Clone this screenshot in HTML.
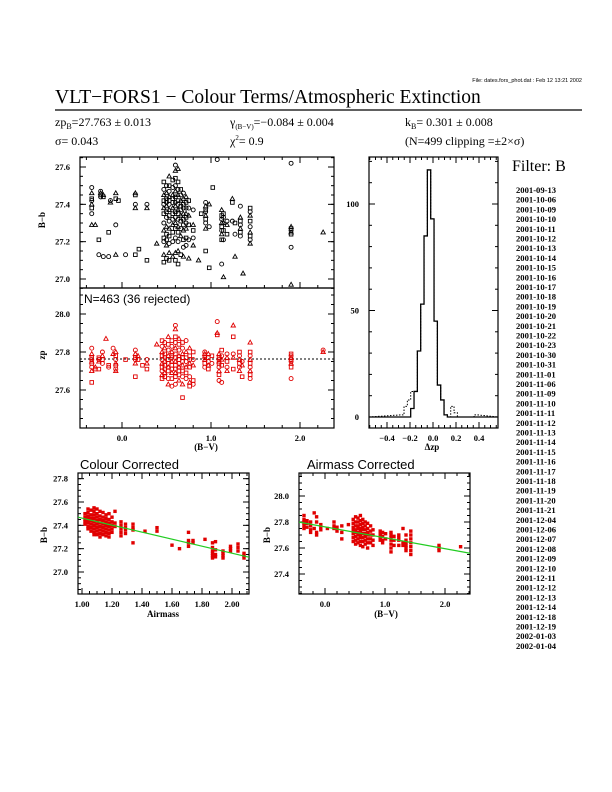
<!DOCTYPE html>
<html><head><meta charset="utf-8"><style>
body{margin:0;background:#fff}
svg{display:block;font-family:"Liberation Sans",sans-serif}
.tk{font-size:8.5px;font-family:"Liberation Serif",serif;font-weight:bold}
.serif{font-family:"Liberation Serif",serif}
</style></head><body>
<svg id="c" width="612" height="792" viewBox="0 0 612 792">
<text x="582" y="82" text-anchor="end" font-size="5.5">File: dates.fors_phot.dat : Feb 12 13:21 2002</text>
<text x="55" y="103" class="serif" font-size="19.5">VLT−FORS1 − Colour Terms/Atmospheric Extinction</text>
<line x1="55" y1="110" x2="582" y2="110" stroke="#000" stroke-width="1.2"/>
<g class="serif" font-size="12">
<text x="55" y="126">zp<tspan font-size="8" dy="3">B</tspan><tspan dy="-3">=27.763 ± 0.013</tspan></text>
<text x="230" y="126">γ<tspan font-size="7" dy="3">(B−V)</tspan><tspan dy="-3">=−0.084 ± 0.004</tspan></text>
<text x="405" y="126">k<tspan font-size="8" dy="3">B</tspan><tspan dy="-3">= 0.301 ± 0.008</tspan></text>
<text x="55" y="145">σ= 0.043</text>
<text x="230" y="145">χ<tspan font-size="7" dy="-5">2</tspan><tspan dy="5">=  0.9</tspan></text>
<text x="405" y="145">(N=499 clipping =±2×σ)</text>
</g>
<text x="512" y="171" class="serif" font-size="16">Filter: B</text>
<g id="dates" class="serif"></g>
</svg>
<script>
const NS="http://www.w3.org/2000/svg";
const svg=document.getElementById('c');
function mk(tag,attrs,parent){const e=document.createElementNS(NS,tag);for(const k in attrs)e.setAttribute(k,attrs[k]);(parent||svg).appendChild(e);return e;}

// ---------- data ----------
const dates=["2001-09-13","2001-10-06","2001-10-09","2001-10-10","2001-10-11","2001-10-12","2001-10-13","2001-10-14","2001-10-15","2001-10-16","2001-10-17","2001-10-18","2001-10-19","2001-10-20","2001-10-21","2001-10-22","2001-10-23","2001-10-30","2001-10-31","2001-11-01","2001-11-06","2001-11-09","2001-11-10","2001-11-11","2001-11-12","2001-11-13","2001-11-14","2001-11-15","2001-11-16","2001-11-17","2001-11-18","2001-11-19","2001-11-20","2001-11-21","2001-12-04","2001-12-06","2001-12-07","2001-12-08","2001-12-09","2001-12-10","2001-12-11","2001-12-12","2001-12-13","2001-12-14","2001-12-18","2001-12-19","2002-01-03","2002-01-04"];

const rawX=[-0.34,-0.30,-0.26,-0.24,-0.21,-0.15,-0.13,-0.07,-0.04,0.04,0.15,0.19,0.28,0.39,0.47,0.50,0.53,0.57,0.60,0.63,0.66,0.69,0.72,0.75,0.80,0.86,0.89,0.94,0.98,1.02,1.07,1.12,1.14,1.18,1.24,1.27,1.33,1.36,1.44,1.90,2.26];
const rawY=[[27.49,27.46,27.43,27.42,27.40,27.38,27.35,27.29],[27.29],[27.21,27.13],[27.47,27.46,27.45,27.44],[27.45,27.44,27.12],[27.25,27.12],[27.42,27.41],[27.46,27.43,27.29,27.13],[27.42],[27.13],[27.46,27.45,27.40,27.38,27.13],[27.16],[27.40,27.38,27.10],[27.19],
[27.52,27.48,27.45,27.42,27.40,27.38,27.35,27.30,27.26,27.22,27.20,27.13,27.09],[27.50,27.46,27.43,27.41,27.39,27.36,27.33,27.28,27.24,27.21,27.18,27.11],[27.55,27.50,27.47,27.44,27.42,27.40,27.37,27.34,27.31,27.27,27.23,27.19,27.14,27.10],[27.53,27.49,27.45,27.43,27.41,27.38,27.35,27.32,27.29,27.25,27.20,27.12],[27.61,27.58,27.54,27.50,27.47,27.44,27.41,27.39,27.36,27.33,27.30,27.27,27.22,27.14,27.10],[27.59,27.52,27.48,27.45,27.42,27.40,27.37,27.35,27.32,27.28,27.25,27.20,27.15,27.08],[27.48,27.45,27.42,27.39,27.37,27.34,27.31,27.27,27.23,27.13],[27.46,27.43,27.40,27.38,27.35,27.32,27.29,27.26,27.21,27.17,27.12],[27.44,27.41,27.38,27.35,27.33,27.30,27.27,27.22,27.18],[27.42,27.38,27.34,27.29,27.21,27.11],[27.37,27.29,27.26,27.22,27.18],[27.10],[27.35],[27.41,27.39,27.37,27.36,27.34,27.32,27.30,27.27,27.15],[27.40,27.06,27.28],[27.49],[27.64],[27.37,27.34,27.32,27.30,27.28,27.26,27.24,27.21,27.08],[27.35,27.33,27.30,27.26,27.21,27.01],[27.31,27.29,27.24],[27.43,27.41,27.31],[27.30,27.24,27.12],[27.39,27.33,27.31,27.29,27.27,27.25,27.23],[27.03],[27.38,27.36,27.34,27.31,27.28,27.25,27.23,27.21,27.19],[27.62,27.28,27.27,27.26,27.25,27.24,27.17,26.97],[27.25]];

const zpX=[-0.34,-0.30,-0.26,-0.22,-0.18,-0.15,-0.10,-0.07,0.04,0.15,0.18,0.23,0.28,0.39,0.45,0.48,0.52,0.56,0.60,0.64,0.68,0.72,0.76,0.80,0.93,0.97,1.01,1.07,1.09,1.12,1.18,1.25,1.32,1.35,1.44,1.90,2.26];
const zpY=[[27.82,27.79,27.77,27.76,27.75,27.74,27.72,27.70,27.64],[27.72,27.71],[27.77,27.76,27.75,27.71],[27.80,27.78,27.76,27.74],[27.87],[27.73,27.72],[27.82,27.79],[27.80,27.78,27.76,27.74,27.73,27.71,27.70],[27.76],[27.81,27.79,27.77,27.76,27.74,27.67],[27.78,27.76],[27.73],[27.76,27.74,27.71],[27.84],
[27.86,27.83,27.80,27.78,27.76,27.74,27.72,27.70,27.68,27.66],[27.85,27.82,27.79,27.77,27.75,27.73,27.71,27.69,27.67],[27.88,27.84,27.81,27.78,27.76,27.74,27.72,27.70,27.66,27.63],[27.86,27.83,27.80,27.78,27.77,27.75,27.73,27.71,27.69,27.66,27.62],[27.94,27.92,27.88,27.85,27.82,27.79,27.77,27.75,27.73,27.71,27.69,27.67,27.63],[27.87,27.84,27.81,27.78,27.76,27.74,27.72,27.70,27.68,27.65],[27.85,27.82,27.79,27.77,27.75,27.73,27.70,27.67,27.63,27.56],[27.86,27.80,27.77,27.75,27.72,27.69,27.66],[27.82,27.78,27.76,27.74,27.72,27.67,27.64,27.62],[27.80,27.76,27.73,27.65,27.63],[27.80,27.79,27.78,27.77,27.76,27.74,27.72],[27.79,27.77,27.75,27.73,27.71],[27.78,27.74],[27.96,27.90,27.89],[27.79,27.77,27.76,27.75,27.74,27.72,27.70,27.68,27.65],[27.81,27.78,27.76,27.73,27.64],[27.79,27.77,27.75,27.72,27.70],[27.94,27.88,27.79,27.77,27.71],[27.80,27.78,27.76,27.74,27.72,27.70],[27.75,27.73,27.67],[27.85,27.80,27.78,27.76,27.74,27.72,27.70,27.68,27.66],[27.79,27.78,27.77,27.76,27.75,27.74,27.72,27.66],[27.81,27.80]];
const zpMean=27.763;

const histEdge0=-0.281, histBin=0.029;
const histAccepted=[0,0,0,4,12,31,53,85,116,93,45,15,8,1,0,0,0,0,0,0,0,0,0];
const histAll=[1,5,8,12,12,31,53,85,116,93,45,15,8,1,0,5,2,0,0,0,0,0,1];

const amX=[1.02,1.04,1.06,1.08,1.10,1.12,1.14,1.16,1.18,1.20,1.22,1.26,1.29,1.34,1.42,1.50,1.60,1.65,1.71,1.74,1.82,1.87,1.89,1.94,1.99,2.04,2.08];
const amY=[[27.50,27.47,27.45,27.43,27.41],[27.54,27.51,27.48,27.46,27.44,27.42,27.39,27.37],[27.53,27.49,27.46,27.44,27.41,27.38,27.35],[27.55,27.52,27.49,27.46,27.43,27.40,27.37,27.34,27.32],[27.54,27.50,27.47,27.44,27.41,27.38,27.35,27.32],[27.52,27.48,27.45,27.42,27.39,27.36,27.33,27.30],[27.51,27.47,27.44,27.41,27.38,27.35,27.32],[27.49,27.46,27.43,27.40,27.37,27.34,27.31],[27.50,27.45,27.42,27.39,27.36,27.33,27.30],[27.47,27.43,27.40,27.37,27.34],[27.52,27.42,27.39],[27.43,27.40,27.37,27.34,27.31],[27.41,27.38,27.36,27.33],[27.41,27.38,27.36,27.25],[27.35],[27.38,27.35],[27.23],[27.20],[27.34,27.27,27.25,27.22],[27.27,27.25],[27.28],[27.25,27.21,27.18,27.16,27.14,27.12],[27.26,27.19,27.15,27.13],[27.18,27.16,27.14,27.12],[27.22,27.20,27.18],[27.24,27.21,27.18],[27.16,27.14,27.12]];
const kB=0.301;

const ccX=[-0.35,-0.30,-0.24,-0.18,-0.14,-0.07,0.04,0.15,0.20,0.28,0.39,0.47,0.51,0.55,0.59,0.63,0.67,0.71,0.76,0.80,0.92,0.96,1.01,1.10,1.15,1.23,1.30,1.35,1.43,1.90,2.26];
const ccY=[[27.85,27.82,27.80,27.79,27.77,27.75],[27.81,27.79,27.76],[27.80,27.77,27.74,27.72],[27.87,27.75],[27.84,27.80,27.72,27.70],[27.78,27.76,27.74],[27.75],[27.80,27.77,27.75],[27.76,27.73],[27.77,27.72,27.67],[27.78],[27.82,27.79,27.76,27.74,27.71,27.68,27.65],[27.84,27.80,27.77,27.74,27.72,27.69,27.66,27.63],[27.83,27.80,27.77,27.75,27.72,27.70,27.67,27.64],[27.85,27.81,27.78,27.75,27.73,27.70,27.68,27.65,27.62],[27.82,27.79,27.76,27.74,27.71,27.68,27.65,27.61],[27.80,27.77,27.74,27.71,27.69,27.66,27.63],[27.79,27.75,27.72,27.70,27.67,27.64,27.60],[27.77,27.73,27.70,27.67,27.64],[27.74,27.70,27.66,27.62],[27.73,27.71,27.70,27.68,27.66],[27.72,27.69,27.66,27.64],[27.71,27.67],[27.72,27.70,27.68,27.66,27.63,27.60,27.57],[27.69,27.66,27.62],[27.70,27.68,27.66,27.62],[27.75,27.64,27.62],[27.70,27.66,27.64,27.62,27.60,27.58],[27.73,27.70,27.67,27.64,27.61,27.58,27.55],[27.62,27.60,27.58],[27.61]];
const colourTerm=-0.084;

const bvTicks=[0,1,2], bvLabels=["0.0","1.0","2.0"];
const topYTicks=[27.0,27.2,27.4,27.6], topYLabels=["27.0","27.2","27.4","27.6"];
const zpYTicks=[27.6,27.8,28.0], zpYLabels=["27.6","27.8","28.0"];
const histXTicks=[-0.4,-0.2,0,0.2,0.4], histXLabels=["−0.4","−0.2","0.0","0.2","0.4"];
const histYTicks=[0,50,100], histYLabels=["0","50","100"];
const amXTicks=[1.0,1.2,1.4,1.6,1.8,2.0], amXLabels=["1.00","1.20","1.40","1.60","1.80","2.00"];
const amYTicks=[27.0,27.2,27.4,27.6,27.8], amYLabels=["27.0","27.2","27.4","27.6","27.8"];
const ccYTicks=[27.4,27.6,27.8,28.0], ccYLabels=["27.4","27.6","27.8","28.0"];

// ---------- helpers ----------
function lin(d0,d1,r0,r1){return v=>r0+(v-d0)*(r1-r0)/(d1-d0);}
function frame(name,x0,y0,x1,y1,sx,sy,xd,yd,xMinor,yMinor,sides){
  const g=mk('g',{});
  
  
  mk('rect',{x:x0,y:y0,width:x1-x0,height:y1-y0,fill:'none',stroke:'#000','stroke-width':1.2},g);
  function ticks(d0,d1,step,isX){
    const start=Math.ceil(d0/step-1e-6)*step;
    for(let v=start;v<=d1+1e-9;v+=step){
      const L=3;
      if(isX){const p=sx(v);
        mk('line',{x1:p,y1:y1,x2:p,y2:y1-L,stroke:'#000'},g);
        if(sides.top)mk('line',{x1:p,y1:y0,x2:p,y2:y0+L,stroke:'#000'},g);
      }else{const p=sy(v);
        mk('line',{x1:x0,y1:p,x2:x0+L,y2:p,stroke:'#000'},g);
        mk('line',{x1:x1,y1:p,x2:x1-L,y2:p,stroke:'#000'},g);
      }
    }
  }
  ticks(xd[0],xd[1],xMinor,true);
  ticks(yd[0],yd[1],yMinor,false);
  return g;
}
function majors(g,sx,sy,x0,y0,x1,y1,xt,xl,yt,yl,top){
  xt.forEach((v,i)=>{const p=sx(v);
    mk('line',{x1:p,y1:y1,x2:p,y2:y1-6,stroke:'#000'},g);
    if(top)mk('line',{x1:p,y1:y0,x2:p,y2:y0+6,stroke:'#000'},g);
    if(xl){const t=mk('text',{x:p,y:y1+13,'text-anchor':'middle',class:'tk'},g);t.textContent=xl[i];
      
      }
  });
  yt.forEach((v,i)=>{const p=sy(v);
    mk('line',{x1:x0,y1:p,x2:x0+6,y2:p,stroke:'#000'},g);
    mk('line',{x1:x1,y1:p,x2:x1-6,y2:p,stroke:'#000'},g);
    const t=mk('text',{x:x0-10,y:p+3,'text-anchor':'end',class:'tk'},g);t.textContent=yl[i];
    
    
  });
}
function marker(g,type,x,y,col){
  let e;
  if(type===0)e=mk('circle',{cx:x,cy:y,r:2,fill:'none',stroke:col,'stroke-width':0.9},g);
  else if(type===1)e=mk('polygon',{points:`${x},${y-2.3} ${x-2.2},${y+1.6} ${x+2.2},${y+1.6}`,fill:'none',stroke:col,'stroke-width':0.9},g);
  else e=mk('rect',{x:x-1.8,y:y-1.8,width:3.6,height:3.6,fill:'none',stroke:col,'stroke-width':0.9},g);
  
  
}
function label(txt,x,y,size,rot,name,anchor,serif){
  const t=mk('text',{x:x,y:y,'font-size':size,'text-anchor':anchor||'middle'});
  if(serif){t.setAttribute('class','serif');t.setAttribute('font-weight','bold');}
  if(rot)t.setAttribute('transform',`rotate(-90 ${x} ${y})`);
  t.textContent=txt;
  
  
  return t;
}

// ---------- panel 1 ----------
{const x0=80,x1=334,y0=157,y1=288;
const sx=lin(0,1,122,211), sy=lin(27.6,27.0,167,279);
const g=frame('raw-colour-panel',x0,y0,x1,y1,sx,sy,[-0.47,2.38],[26.95,27.65],0.2,0.05,{top:true});
majors(g,sx,sy,x0,y0,x1,y1,bvTicks,null,topYTicks,topYLabels,true);
rawX.forEach((xv,i)=>rawY[i].forEach((yv,j)=>{const py=sy(yv);if(py>y0&&py<y1)marker(g,(i+j)%3,sx(xv),py,'#000');}));
label('B−b',45,220,9,true,'y-axis-title-raw','middle',true);}

// ---------- panel 2 ----------
{const x0=80,x1=334,y0=288,y1=428;
const sx=lin(0,1,122,211), sy=lin(28.0,27.6,314,390);
const g=frame('zeropoint-panel',x0,y0,x1,y1,sx,sy,[-0.47,2.38],[27.40,28.13],0.2,0.05,{top:false});
majors(g,sx,sy,x0,y0,x1,y1,bvTicks,bvLabels,zpYTicks,zpYLabels,false);
const m=mk('line',{x1:x0,x2:x1,y1:sy(zpMean),y2:sy(zpMean),stroke:'#000','stroke-dasharray':'2,2'},g);


zpX.forEach((xv,i)=>zpY[i].forEach((yv,j)=>marker(g,(i+j)%3,sx(xv),sy(yv),'#e00000')));
const t=mk('text',{x:84,y:303,'font-size':12},g);t.textContent='N=463 (36 rejected)';


label('zp',45,355,9,true,'y-axis-title-zp','middle',true);
label('(B−V)',206,450,9,false,'x-axis-title-bv','middle',true);}

// ---------- panel 3 ----------
{const x0=369,x1=498,y0=157,y1=428;
const sx=lin(0,0.4,433,479), sy=lin(0,100,417,204);
const g=frame('residual-histogram',x0,y0,x1,y1,sx,sy,[-0.55,0.56],[-5,122],0.05,10,{top:true});
majors(g,sx,sy,x0,y0,x1,y1,histXTicks,histXLabels,histYTicks,histYLabels,true);
function stepPath(arr){let d=`M${x0},${sy(0)}`;arr.forEach((c,i)=>{const a=sx(histEdge0+i*histBin),b=sx(histEdge0+(i+1)*histBin);d+=` L${a},${sy(c)} L${b},${sy(c)}`;});d+=` L${x1},${sy(0)}`;return d;}
const pa=mk('path',{d:stepPath(histAll),fill:'none',stroke:'#000','stroke-dasharray':'1.5,1.5'},g);


const pb=mk('path',{d:stepPath(histAccepted),fill:'none',stroke:'#000','stroke-width':1.3},g);


label('Δzp',432,450,9,false,'x-axis-title-dzp','middle',true);}

// ---------- panel 4 ----------
{const x0=78,x1=249,y0=473,y1=594;
const sx=lin(1,2,82,232), sy=lin(27.6,27.0,502,572);
const g=frame('colour-corrected-panel',x0,y0,x1,y1,sx,sy,[0.97,2.11],[26.81,27.84],0.05,0.05,{top:true});
majors(g,sx,sy,x0,y0,x1,y1,amXTicks,amXLabels,amYTicks,amYLabels,true);
amX.forEach((xv,i)=>amY[i].forEach(yv=>{const r=mk('rect',{x:sx(xv)-1.7,y:sy(yv)-1.7,width:3.4,height:3.4,fill:'#e00000'},g);

}));
const fl=mk('line',{x1:x0,y1:sy(zpMean-kB*0.973),x2:x1,y2:sy(zpMean-kB*2.113),stroke:'#22cc22','stroke-width':1.2},g);


label('Colour Corrected',80,469,13,false,'colour-corrected-title','start',false);
label('B−b',47,535,9,true,'y-axis-title-am','middle',true);
label('Airmass',163,617,9,false,'x-axis-title-airmass','middle',true);}

// ---------- panel 5 ----------
{const x0=299,x1=470,y0=473,y1=594;
const sx=lin(0,1,325,385), sy=lin(28.0,27.4,496,574);
const g=frame('airmass-corrected-panel',x0,y0,x1,y1,sx,sy,[-0.43,2.42],[27.25,28.17],0.2,0.05,{top:true});
majors(g,sx,sy,x0,y0,x1,y1,bvTicks,bvLabels,ccYTicks,ccYLabels,true);
ccX.forEach((xv,i)=>ccY[i].forEach(yv=>{const r=mk('rect',{x:sx(xv)-1.7,y:sy(yv)-1.7,width:3.4,height:3.4,fill:'#e00000'},g);

}));
const fl=mk('line',{x1:x0,y1:sy(zpMean+colourTerm*-0.43),x2:x1,y2:sy(zpMean+colourTerm*2.42),stroke:'#22cc22','stroke-width':1.2},g);


label('Airmass Corrected',307,469,13,false,'airmass-corrected-title','start',false);
label('B−b',270,535,9,true,'y-axis-title-cc','middle',true);
label('(B−V)',386,617,9,false,'x-axis-title-bv2','middle',true);}

// ---------- dates legend ----------
{const g=document.getElementById('dates');
dates.forEach((d,i)=>{const t=mk('text',{x:516,y:193+i*9.7,'font-size':8.6,'font-weight':'bold'},g);
t.textContent=d;

});}
</script>
</body></html>
